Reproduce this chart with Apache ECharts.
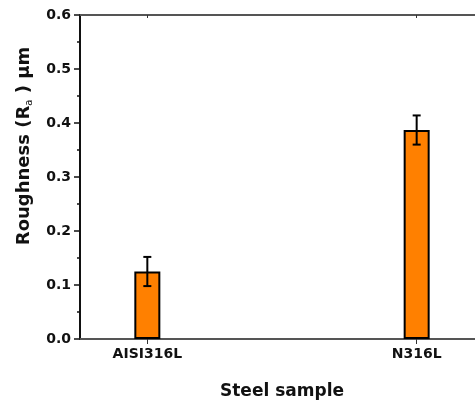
<!DOCTYPE html>
<html>
<head>
    <meta charset="utf-8">
    <title>Roughness</title>
    <script src="https://cdn.jsdelivr.net/npm/echarts@6/dist/echarts.min.js"></script>
    <style>
        html, body { margin: 0; padding: 0; background: #fff; }
    </style>
</head>
<body>
    <div id="main" style="width: 475px;height:403px;"></div>
    <script type="text/javascript">
        // data
        var categories = ['AISI316L', 'N316L'];
        var roughness = [0.125, 0.387];
        var errors = [0.027, 0.027];
        var yTicks = [0, 0.1, 0.2, 0.3, 0.4, 0.5, 0.6];

        var font = 'DejaVu Sans, sans-serif';
        var positions = categories.map(function (c, i) { return i; });

        var barData = categories.map(function (c, i) { return [i, roughness[i]]; });
        var errData = categories.map(function (c, i) { return [i, roughness[i], errors[i]]; });

        // error bars drawn with custom series
        function renderErr(params, api) {
            var x = api.value(0), y = api.value(1), e = api.value(2);
            var top = api.coord([x, y + e]);
            var bot = api.coord([x, y - e]);
            var cap = 4;
            var st = { stroke: '#000', lineWidth: 2 };
            return {
                type: 'group',
                children: [
                    { type: 'line', shape: { x1: top[0], y1: top[1], x2: bot[0], y2: bot[1] }, style: st },
                    { type: 'line', shape: { x1: top[0] - cap, y1: top[1], x2: top[0] + cap, y2: top[1] }, style: st },
                    { type: 'line', shape: { x1: bot[0] - cap, y1: bot[1], x2: bot[0] + cap, y2: bot[1] }, style: st }
                ]
            };
        }

        var chart = echarts.init(document.getElementById('main'));
        var option = {
            backgroundColor: '#fff',
            animation: false,
            // plot runs a bit past the right edge, like the cropped original
            grid: { left: 80, top: 15, width: 404, height: 324, outerBoundsMode: 'none' },
            xAxis: [{
                type: 'value',
                min: -0.25,
                max: 1.25,
                name: 'Steel sample',
                nameLocation: 'middle',
                nameGap: 44,
                nameTextStyle: { fontFamily: font, fontWeight: 'bold', fontSize: 17, color: '#111' },
                axisLine: { show: true, lineStyle: { color: '#555', width: 2 } },
                axisTick: { show: true, customValues: positions, length: 5, lineStyle: { color: '#333', width: 1 } },
                axisLabel: {
                    customValues: positions,
                    formatter: function (v) { return categories[Math.round(v)]; },
                    fontFamily: font, fontWeight: 'bold', fontSize: 14, color: '#111', margin: 8
                },
                splitLine: { show: false }
            }, {
                type: 'value',
                position: 'top',
                min: -0.25,
                max: 1.25,
                axisLine: { show: true, lineStyle: { color: '#555', width: 2 } },
                axisTick: { show: true, inside: true, customValues: positions, length: 3, lineStyle: { color: '#333' } },
                axisLabel: { show: false },
                splitLine: { show: false }
            }],
            yAxis: {
                type: 'value',
                min: 0,
                max: 0.6,
                interval: 0.1,
                name: 'Roughness (R{sub|a} ) µm',
                nameLocation: 'middle',
                nameGap: 46,
                nameTextStyle: {
                    fontFamily: font, fontWeight: 'bold', fontSize: 18, color: '#111',
                    padding: [0, 0, 0, 62],
                    rich: { sub: { fontFamily: font, fontSize: 10, fontWeight: 'normal', color: '#111', padding: [10, 0, 0, 0] } }
                },
                axisLine: { show: true, onZero: false, lineStyle: { color: '#111', width: 2 } },
                axisTick: { show: true, length: 6, lineStyle: { color: '#111', width: 1.5 } },
                minorTick: { show: true, splitNumber: 2, length: 3, lineStyle: { color: '#111', width: 1.5 } },
                axisLabel: {
                    formatter: function (v) { return v.toFixed(1); },
                    fontFamily: font, fontWeight: 'bold', fontSize: 14, color: '#111', margin: 9
                },
                splitLine: { show: false }
            },
            series: [{
                type: 'bar',
                data: barData,
                barWidth: 26,
                itemStyle: { color: '#FF8000', borderColor: '#000', borderWidth: 2 },
                z: 2
            }, {
                type: 'custom',
                data: errData,
                renderItem: renderErr,
                z: 3
            }]
        };
        chart.setOption(option);
    </script>
</body>
</html>
